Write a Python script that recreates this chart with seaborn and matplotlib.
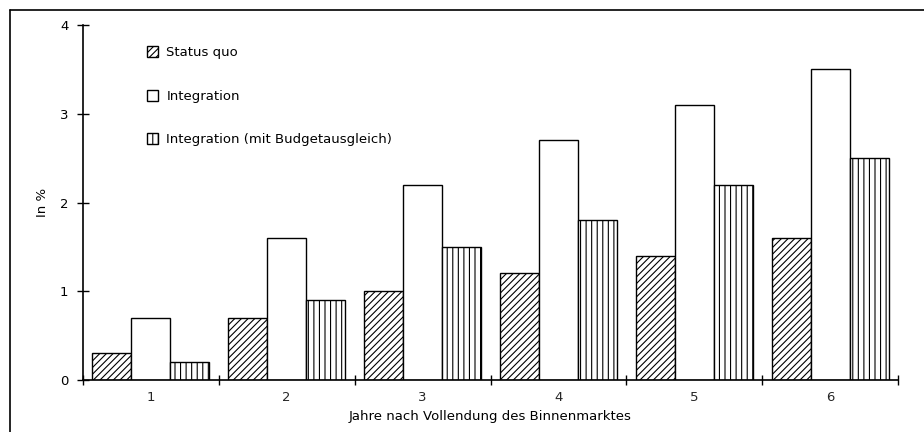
import numpy as np
import pandas as pd
import seaborn as sns
import matplotlib.pyplot as plt
from matplotlib.patches import Patch
from matplotlib.lines import Line2D

years = ['1', '2', '3', '4', '5', '6']
status_quo = [0.3, 0.7, 1.0, 1.2, 1.4, 1.6]
integration = [0.7, 1.6, 2.2, 2.7, 3.1, 3.5]
integration_budget = [0.2, 0.9, 1.5, 1.8, 2.2, 2.5]
series_names = ['Status quo', 'Integration', 'Integration (mit Budgetausgleich)']
hatches = ['/////', '', '|||']

df = pd.DataFrame({
    'Jahr': years * 3,
    'Wert': status_quo + integration + integration_budget,
    'Szenario': [series_names[0]] * 6 + [series_names[1]] * 6 + [series_names[2]] * 6,
})

sns.set_theme(style='white')
plt.rcParams['font.family'] = ['DejaVu Sans']
plt.rcParams['hatch.linewidth'] = 0.8
plt.rcParams['text.color'] = 'black'
plt.rcParams['axes.labelcolor'] = 'black'

fig = plt.figure(figsize=(9.24, 4.32), dpi=100)
ax = fig.add_axes([0.0898, 0.1204, 0.8821, 0.8217])

sns.barplot(data=df, x='Jahr', y='Wert', hue='Szenario', order=years,
            hue_order=series_names, palette=['white'] * 3, edgecolor='black',
            linewidth=1.0, width=0.86, gap=0, legend=False, ax=ax)

# hatches per series (containers follow hue order)
for cont, h in zip(ax.containers, hatches):
    for bar in cont:
        bar.set_hatch(h)

ax.set_xlim(-0.5, 5.5)
ax.set_ylim(0, 4)
ax.set_yticks([0, 1, 2, 3, 4])
ax.tick_params(axis='y', direction='inout', length=9, width=1, colors='black',
               labelsize=9.5, pad=6, left=True)
ax.tick_params(axis='x', which='major', length=0, labelsize=9.5, pad=8)
ax.set_xticks(np.arange(-0.5, 6.0, 1.0), minor=True)
ax.tick_params(axis='x', which='minor', direction='inout', length=7, width=1,
               colors='black', bottom=True)

for s in ['top', 'right']:
    ax.spines[s].set_visible(False)
for s in ['left', 'bottom']:
    ax.spines[s].set_color('black')
    ax.spines[s].set_linewidth(1.2)

ax.set_xlabel('Jahre nach Vollendung des Binnenmarktes', fontsize=9.5, labelpad=4)
ax.set_ylabel('In %', fontsize=9.5, labelpad=8)

handles = [Patch(facecolor='white', edgecolor='black', hatch=h, linewidth=1.0)
           for h in hatches]
ax.legend(handles, series_names, loc='upper left', bbox_to_anchor=(0.078, 0.94),
          frameon=False, fontsize=9.5, handlelength=0.9, handleheight=0.9,
          handletextpad=0.6, labelspacing=2.3, borderpad=0, borderaxespad=0)

# page frame (top and left edge of the scanned figure box)
fig.add_artist(Line2D([10 / 924, 1], [1 - 10 / 432, 1 - 10 / 432],
                      transform=fig.transFigure, color='black', lw=1.2))
fig.add_artist(Line2D([10 / 924, 10 / 924], [0, 1 - 10 / 432],
                      transform=fig.transFigure, color='black', lw=1.2))

fig.savefig('out.png', dpi=100, facecolor='white')
